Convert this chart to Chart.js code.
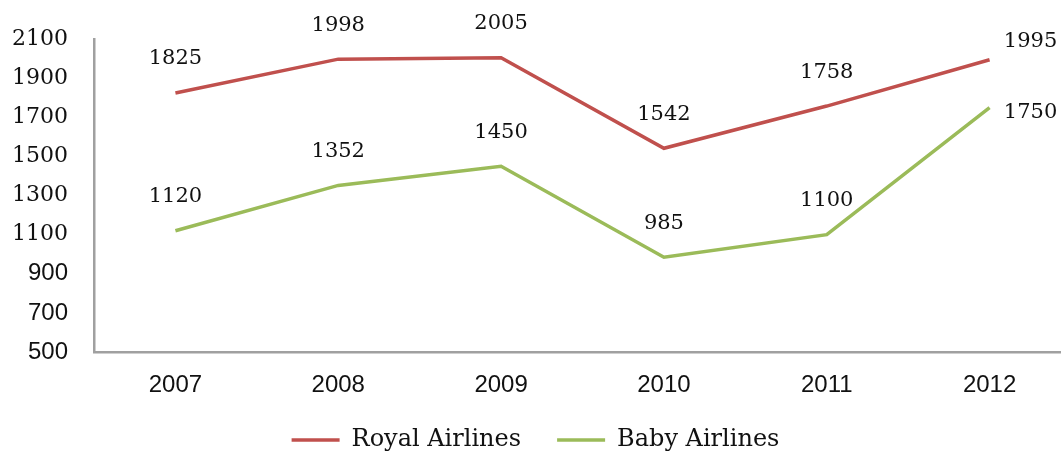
<!DOCTYPE html>
<html>
<head>
<meta charset="utf-8">
<script src="https://cdn.jsdelivr.net/npm/chart.js@4/dist/chart.umd.min.js"></script>
<style>
  html,body{margin:0;padding:0;background:#fff;}
  .wrap{width:1061px;height:455px;overflow:hidden;position:relative;}
  #chart{display:block;}
</style>
</head>
<body>
<div class="wrap"><canvas id="chart" width="1071" height="455"></canvas></div>
<script>
const years = ['2007','2008','2009','2010','2011','2012'];
const royal = [1825, 1998, 2005, 1542, 1758, 1995];
const baby = [1120, 1352, 1450, 985, 1100, 1750];
const yMin = 500, yMax = 2100, yStep = 200;

const serif = 'DejaVu Serif';
const sans = 'Liberation Sans';

// value labels drawn above each point, last one pushed to the right
const labelShift = [[41, -18], [41, 5]];
const valueLabels = {
  id: 'valueLabels',
  afterDatasetsDraw(chart) {
    const ctx = chart.ctx;
    ctx.save();
    ctx.font = '21px "' + serif + '"';
    ctx.fillStyle = '#111';
    ctx.textAlign = 'center';
    ctx.textBaseline = 'middle';
    chart.data.datasets.forEach((ds, i) => {
      const meta = chart.getDatasetMeta(i);
      meta.data.forEach((pt, j) => {
        let x = pt.x, y = pt.y - 34;
        if (j === ds.data.length - 1) {
          x = pt.x + labelShift[i][0];
          y = pt.y + labelShift[i][1];
        }
        ctx.fillText(ds.data[j], x, y);
      });
    });
    ctx.restore();
  }
};

new Chart(document.getElementById('chart'), {
  type: 'line',
  data: {
    labels: years,
    datasets: [
      {label: 'Royal Airlines', data: royal, borderColor: '#C0504D', backgroundColor: '#C0504D',
       borderWidth: 3.5, pointRadius: 0, tension: 0},
      {label: 'Baby Airlines', data: baby, borderColor: '#9BBB59', backgroundColor: '#9BBB59',
       borderWidth: 3.5, pointRadius: 0, tension: 0}
    ]
  },
  options: {
    responsive: false,
    animation: false,
    devicePixelRatio: 1,
    layout: {padding: {top: 35, right: 0, bottom: -7, left: 0}},
    scales: {
      x: {
        offset: true,
        grid: {display: false, drawTicks: false, offset: true},
        border: {display: true, color: '#a0a0a0', width: 2.5},
        afterFit: (s) => { s.height = 40; },
        ticks: {color: '#111', padding: 19, font: {family: sans, size: 24}}
      },
      y: {
        min: yMin, max: yMax,
        grid: {display: false, drawTicks: false},
        border: {display: true, color: '#a0a0a0', width: 2.5},
        afterFit: (s) => { s.width = 94; },
        ticks: {
          stepSize: yStep,
          color: '#111',
          padding: 26,
          callback: (v) => String(v),
          font: (c) => (c.tick && c.tick.value >= 1000)
            ? {family: serif, size: 22}
            : {family: sans, size: 24}
        }
      }
    },
    plugins: {
      legend: {
        position: 'bottom',
        labels: {
          usePointStyle: true,
          pointStyle: 'line',
          pointStyleWidth: 48,
          color: '#111',
          padding: 36,
          font: {family: serif, size: 24}
        }
      },
      tooltip: {enabled: false}
    }
  },
  plugins: [valueLabels]
});
</script>
</body>
</html>
